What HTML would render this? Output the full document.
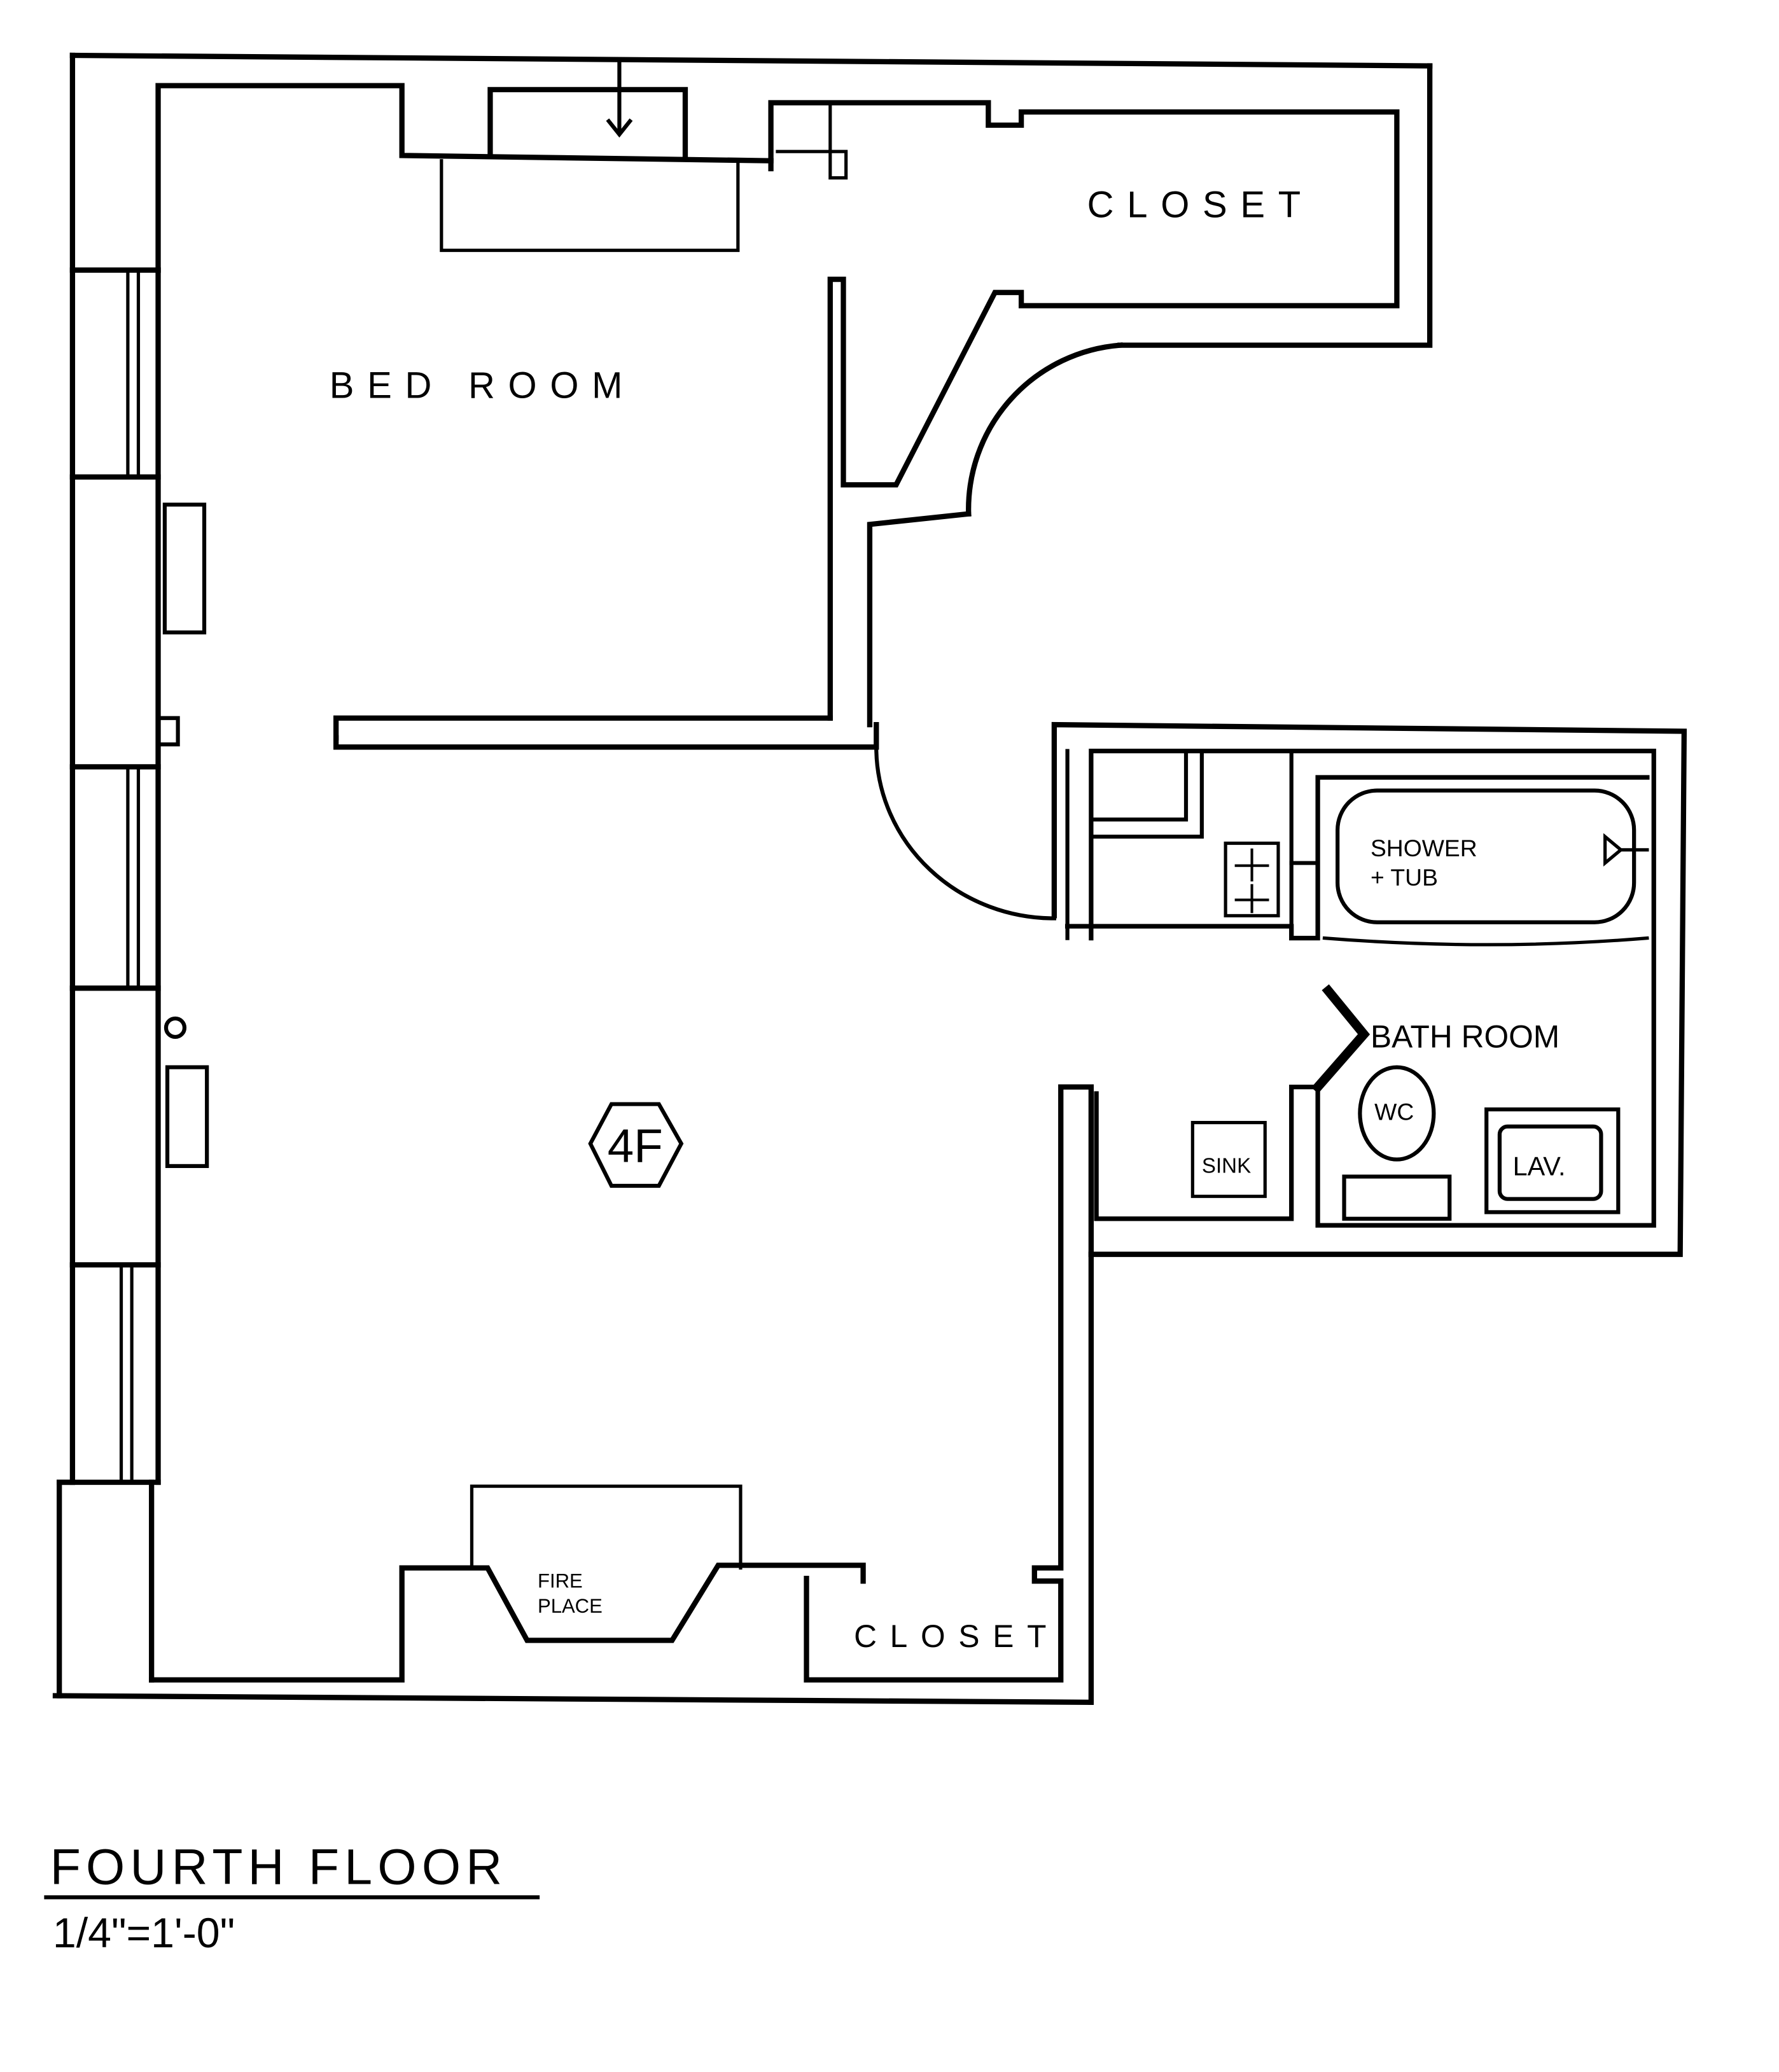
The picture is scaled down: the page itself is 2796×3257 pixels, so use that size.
<!DOCTYPE html>
<html><head><meta charset="utf-8"><style>
html,body{margin:0;padding:0;background:#fff;}
svg{display:block;}
text{font-family:"Liberation Sans",sans-serif;fill:#000;}
</style></head><body>
<svg width="2796" height="3257" viewBox="0 0 1350 1572.6" preserveAspectRatio="none" xmlns="http://www.w3.org/2000/svg">
<rect width="1350" height="1573" fill="#fff"/>
<g fill="none" stroke="#000" stroke-width="4" stroke-linejoin="miter" stroke-linecap="square">
<!-- top outer -->
<line x1="55" y1="42" x2="1085" y2="50"/>
<polyline points="1085,50 1085,262 850,262"/>
<path d="M850,262 A125,125 0 0 0 735,390"/>
<polyline points="735,390 660,398 660,550"/>
<!-- bedroom inner top -->
<polyline points="120,205 120,65 305,65 305,118 585,122"/>
<polyline points="372,118 372,68 520,68 520,118"/>
<polyline points="335,122 335,190 560,190 560,122" stroke-width="2.5"/>
<line x1="470" y1="45" x2="470" y2="100" stroke-width="3"/>
<polyline points="462,92 470,102 478,92" stroke-width="3"/>
<!-- closet inner -->
<polyline points="585,128 585,78 750,78 750,95 775,95 775,85 1060,85 1060,232 775,232 775,222 755,222 680,368 640,368 640,212 630,212 630,545"/>
<polyline points="590,115 630,115 630,80" stroke-width="2.5"/>
<rect x="630" y="115" width="12" height="20" stroke-width="2.5"/>
<!-- partition -->
<polyline points="255,560 255,545 630,545"/>
<polyline points="255,560 255,567 665,567 665,550"/>
<!-- left wall -->
<line x1="55" y1="42" x2="55" y2="1125"/>
<polyline points="55,1125 45,1125 45,1287"/>
<line x1="120" y1="205" x2="120" y2="1125"/>
<line x1="115" y1="1125" x2="115" y2="1275"/>
<line x1="55" y1="205" x2="120" y2="205"/>
<line x1="55" y1="362" x2="120" y2="362"/>
<line x1="55" y1="582" x2="120" y2="582"/>
<line x1="55" y1="750" x2="120" y2="750"/>
<line x1="55" y1="960" x2="120" y2="960"/>
<line x1="45" y1="1125" x2="120" y2="1125"/>
<polyline points="120,545 135,545 135,565 120,565" stroke-width="3"/>
<g stroke-width="2.5">
<line x1="97" y1="205" x2="97" y2="362"/><line x1="105" y1="205" x2="105" y2="362"/>
<line x1="97" y1="582" x2="97" y2="750"/><line x1="105" y1="582" x2="105" y2="750"/>
<line x1="92" y1="960" x2="92" y2="1125"/><line x1="100" y1="960" x2="100" y2="1125"/>
</g>
<rect x="125" y="383" width="30" height="97" stroke-width="3"/>
<rect x="127" y="810" width="30" height="75" stroke-width="3"/>
<circle cx="133" cy="780" r="7" stroke-width="3"/>
<!-- bottom -->
<polyline points="115,1275 305,1275 305,1190 370,1190 400,1245 510,1245 545,1188 655,1188 655,1200"/>
<polyline points="358,1190 358,1128 562,1128 562,1190" stroke-width="2.5"/>
<line x1="42" y1="1287" x2="828" y2="1292"/>
<polyline points="612,1198 612,1275 805,1275 805,1200 785,1200 785,1190 805,1190 805,825 828,825 828,1292"/>
<!-- right outer and bath -->
<polyline points="828,952 1275,952 1278,555 800,550 800,695"/>
<path d="M665,570 A135,130 0 0 0 800,697" stroke-width="3"/>
<polyline points="828,712 828,570 1255,570 1255,930 1000,930 1000,825 980,825 980,925 832,925 832,830" stroke-width="3.5"/>
<polyline points="810,570 810,712" stroke-width="3"/>
<polyline points="810,703 980,703 980,712 1000,712 1000,590 1250,590" stroke-width="3.5"/>
<rect x="828" y="570" width="72" height="52" stroke-width="3"/>
<polyline points="912,570 912,635 828,635" stroke-width="3"/>
<line x1="980" y1="570" x2="980" y2="703" stroke-width="3"/>
<line x1="980" y1="655" x2="1000" y2="655" stroke-width="3"/>
<rect x="930" y="640" width="40" height="55" stroke-width="2.5"/>
<g stroke-width="2"><line x1="950" y1="645" x2="950" y2="668"/><line x1="938" y1="657" x2="962" y2="657"/><line x1="950" y1="672" x2="950" y2="692"/><line x1="938" y1="683" x2="962" y2="683"/></g>
<rect x="1015" y="600" width="225" height="100" rx="30" stroke-width="3"/>
<path d="M1005,712 Q1130,722 1250,712" stroke-width="2.5"/>
<path d="M1218,635 L1230,645 L1218,655 Z M1230,645 L1250,645" stroke-width="2.5"/>
<polyline points="1008,752 1035,785 1000,825" stroke-width="7"/>
<rect x="905" y="852" width="55" height="56" stroke-width="2.5"/>
<ellipse cx="1060" cy="845" rx="28" ry="35" stroke-width="3"/>
<rect x="1020" y="893" width="80" height="32" stroke-width="3"/>
<rect x="1128" y="842" width="100" height="78" stroke-width="3"/>
<rect x="1138" y="855" width="77" height="55" rx="6" stroke-width="3"/>
<polygon points="464,838 500,838 517,868 500,900 464,900 448,868" stroke-width="3"/>
<line x1="35" y1="1440" x2="408" y2="1440" stroke-width="3"/>
</g>
<g font-size="28" letter-spacing="10">
<text x="250" y="302">BED ROOM</text>
<text x="825" y="165">CLOSET</text>
<text x="648" y="1250" font-size="24">CLOSET</text>
</g>
<text x="408" y="1205" font-size="15">FIRE</text>
<text x="408" y="1224" font-size="15">PLACE</text>
<text x="1040" y="795" font-size="24">BATH ROOM</text>
<text x="1040" y="650" font-size="18">SHOWER</text>
<text x="1040" y="672" font-size="18">+ TUB</text>
<text x="1043" y="850" font-size="18">WC</text>
<text x="912" y="890" font-size="16">SINK</text>
<text x="1148" y="892" font-size="20">LAV.</text>
<text x="482" y="882" font-size="36" text-anchor="middle">4F</text>
<text x="38" y="1430" font-size="38" letter-spacing="4">FOURTH  FLOOR</text>
<text x="40" y="1478" font-size="32">1/4"=1'-0"</text>
</svg>
</body></html>
